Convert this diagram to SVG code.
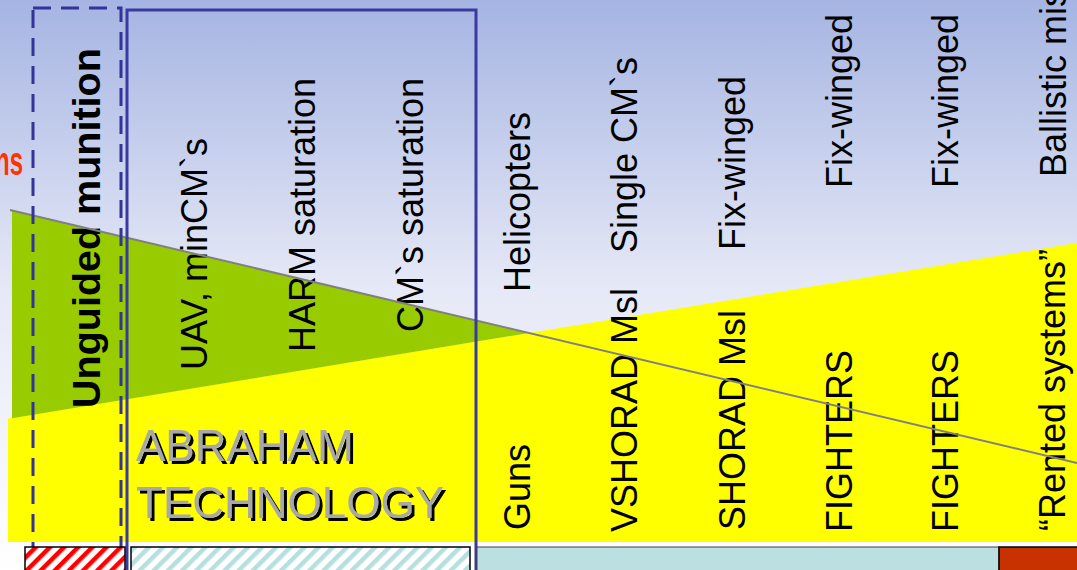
<svg xmlns="http://www.w3.org/2000/svg" width="1077" height="570" viewBox="0 0 1077 570">
<defs>
<linearGradient id="bg" x1="0" y1="0" x2="0" y2="1">
<stop offset="0" stop-color="#a5b4e2"/>
<stop offset="0.5" stop-color="#e5e8f6"/>
<stop offset="1" stop-color="#ffffff"/>
</linearGradient>
<pattern id="redhatch" patternUnits="userSpaceOnUse" width="10" height="10" patternTransform="rotate(45)">
<rect width="10" height="10" fill="#ffffff"/>
<rect width="4.5" height="10" fill="#ff0000"/>
</pattern>
<pattern id="cyanhatch" patternUnits="userSpaceOnUse" width="10" height="10" patternTransform="rotate(45)">
<rect width="10" height="10" fill="#ffffff"/>
<rect width="4.5" height="10" fill="#b6dfe0"/>
</pattern>
<filter id="shadow" x="-5%" y="-20%" width="115%" height="150%">
<feOffset in="SourceAlpha" dx="2.5" dy="2.5" result="off"/>
<feMerge><feMergeNode in="off"/><feMergeNode in="SourceGraphic"/></feMerge>
</filter>
<style>
.lbl{font-family:"Liberation Sans",Arial,sans-serif;font-size:36px;fill:#000000}
.bold{font-weight:bold}
.abr{font-family:"Liberation Sans",Arial,sans-serif;font-size:44px;fill:#a8a8a8;filter:url(#shadow)}
</style>
</defs>
<rect x="0" y="0" width="1077" height="570" fill="url(#bg)"/>
<g id="areas">
<polygon points="8,418.5 1077,243 1077,542 8,542" fill="#ffff00"/>
<polygon points="12,210.5 528.7,333 12,418.2" fill="#99cc00"/>
</g>
<g id="labels">
<g id="n-ns"><text class="lbl bold" style="fill:#ff3300;font-size:40px" text-anchor="end" transform="translate(23,175) scale(0.6,1)">ns</text></g>
<g id="n-unguided"><text class="lbl bold" style="font-size:39.5px" transform="translate(100,408) rotate(-90)">Unguided munition</text></g>
<g id="n-uav"><text class="lbl" transform="translate(206.5,370) rotate(-90)">UAV, minCM`s</text></g>
<g id="n-harm"><text class="lbl" transform="translate(315,352) rotate(-90)">HARM saturation</text></g>
<g id="n-cms"><text class="lbl" transform="translate(423,332) rotate(-90)">CM`s saturation</text></g>
<g id="n-heli"><text class="lbl" transform="translate(530,292) rotate(-90)">Helicopters</text></g>
<g id="n-guns"><text class="lbl" transform="translate(530,530) rotate(-90)">Guns</text></g>
<g id="n-single"><text class="lbl" transform="translate(637,253) rotate(-90)">Single CM`s</text></g>
<g id="n-vshorad"><text class="lbl" transform="translate(637,532) rotate(-90)">VSHORAD Msl</text></g>
<g id="n-fix1"><text class="lbl" transform="translate(745,250) rotate(-90)">Fix-winged</text></g>
<g id="n-shorad"><text class="lbl" transform="translate(745,530) rotate(-90)">SHORAD Msl</text></g>
<g id="n-fix2"><text class="lbl" transform="translate(852,188) rotate(-90)">Fix-winged</text></g>
<g id="n-fighters1"><text class="lbl" transform="translate(852,532) rotate(-90)">FIGHTERS</text></g>
<g id="n-fix3"><text class="lbl" transform="translate(958,188) rotate(-90)">Fix-winged</text></g>
<g id="n-fighters2"><text class="lbl" transform="translate(958,532) rotate(-90)">FIGHTERS</text></g>
<g id="n-ballistic"><text class="lbl" transform="translate(1066,177) rotate(-90)">Ballistic missiles</text></g>
<g id="n-rented"><text class="lbl" transform="translate(1065,531) rotate(-90)">“Rented systems”</text></g>
<g id="n-abraham">
<text class="abr" x="136" y="461">ABRAHAM</text>
<text class="abr" x="136" y="518">TECHNOLOGY</text>
</g>
</g>
<g id="connectors">
<line x1="10" y1="210" x2="1077" y2="463" stroke="#808080" stroke-width="2"/>
</g>
<g id="frames">
<rect id="dashed-frame" x="33" y="8" width="88" height="580" fill="none" stroke="#333399" stroke-width="3" stroke-dasharray="18 10"/>
<rect id="solid-frame" x="127" y="10" width="349" height="580" fill="none" stroke="#3a3aa0" stroke-width="3"/>
</g>
<g id="strip">
<rect x="25" y="547" width="100" height="30" fill="url(#redhatch)" stroke="#000000" stroke-width="1.5"/>
<rect x="131" y="547" width="339" height="30" fill="url(#cyanhatch)" stroke="#000000" stroke-width="1.5"/>
<rect x="477" y="547" width="522" height="30" fill="#bce0e2" stroke="#404040" stroke-width="1"/>
<rect x="999" y="547" width="80" height="30" fill="#c83200" stroke="#000000" stroke-width="1.5"/>
</g>
</svg>
